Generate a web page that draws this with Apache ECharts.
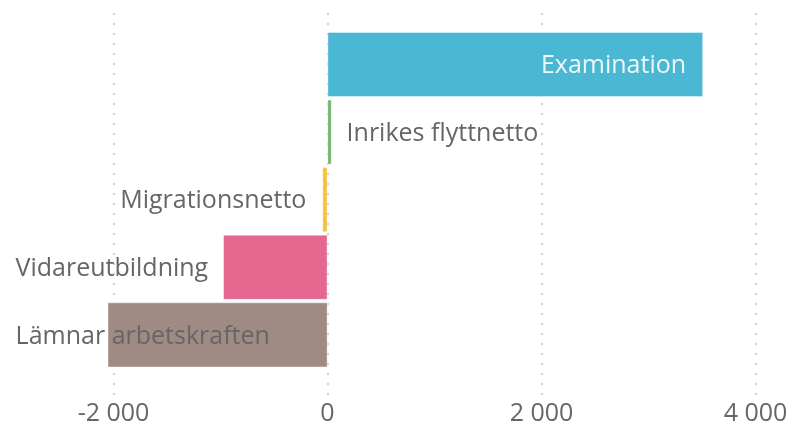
<!DOCTYPE html>
<html>
<head>
<meta charset="utf-8">
<script src="https://cdn.jsdelivr.net/npm/echarts@6/dist/echarts.min.js"></script>
<style>
  html, body { margin: 0; padding: 0; background: #fff; }
  #chart { width: 792px; height: 426px; }
</style>
</head>
<body>
<div id="chart"></div>
<script>
// Flows into and out of the labour force (persons)
const categories = ['Examination', 'Inrikes flyttnetto', 'Migrationsnetto', 'Vidareutbildning', 'Lämnar arbetskraften'];
const values = [3510, 38, -48, -975, -2055];
const colors = ['#4ab7d3', '#6ab56a', '#f6c23e', '#e5678f', '#9f8b83'];
const tickValues = [-2000, 0, 2000, 4000];

const FONT = '"Open Sans", "Noto Sans", sans-serif';
const TEXT = '#666666';

// Pixel scale shared by both grids: 0 at x=327.5, 214 px per 2000
const zeroX = 327.5, pxPerUnit = 214 / 2000, chartW = 792;
const gridMin = tickValues[0], gridMax = tickValues[tickValues.length - 1];
const barMin = -2200, barMax = 4000;

function fmt(v) {
  const s = Math.abs(v).toString().replace(/\B(?=(\d{3})+(?!\d))/g, ' ');
  return (v < 0 ? '-' : '') + s;
}

// The long last label is kept inside the chart: shifted left from the bar start
const labelConf = [
  { position: 'insideRight', distance: 17, offset: [0, 1.5], color: '#eef7f9' },
  { position: 'right', distance: 15, offset: [0, 1.5], color: TEXT },
  { position: 'left', distance: 16, offset: [0, 1.5], color: TEXT },
  { position: 'left', distance: 15, offset: [0, 1.5], color: TEXT },
  { position: 'insideLeft', distance: 0, offset: [-92, 1.5], color: TEXT }
];

const barData = values.map((v, i) => ({
  value: v,
  itemStyle: { color: colors[i] },
  label: Object.assign({ show: true, formatter: categories[i], fontFamily: FONT, fontSize: 25 }, labelConf[i])
}));

const chart = echarts.init(document.getElementById('chart'), null, { renderer: 'canvas' });
chart.setOption({
  animation: false,
  grid: [
    // grid 0: dotted gridlines and tick labels
    { left: zeroX + gridMin * pxPerUnit, right: chartW - (zeroX + gridMax * pxPerUnit), top: 13, bottom: 30, containLabel: false },
    // grid 1: the bars
    { left: zeroX + barMin * pxPerUnit, right: chartW - (zeroX + barMax * pxPerUnit), top: 30.7, height: 338, containLabel: false }
  ],
  xAxis: [
    {
      gridIndex: 0, type: 'value', min: gridMin, max: gridMax, interval: 2000,
      axisLine: { show: false }, axisTick: { show: false },
      splitLine: { show: true, lineStyle: { type: [2, 8], color: '#c4c4c4', width: 1.6 } },
      axisLabel: { margin: 5, color: TEXT, fontFamily: FONT, fontSize: 25, formatter: fmt }
    },
    {
      gridIndex: 1, type: 'value', min: barMin, max: barMax,
      show: false, splitLine: { show: false }
    }
  ],
  yAxis: [
    { gridIndex: 0, type: 'value', show: false, splitLine: { show: false } },
    { gridIndex: 1, type: 'category', data: categories, inverse: true, show: false }
  ],
  series: [{
    type: 'bar',
    xAxisIndex: 1, yAxisIndex: 1,
    data: barData,
    barCategoryGap: '4%',
    itemStyle: { borderColor: 'rgba(255,255,255,0.5)', borderWidth: 0.8 }
  }]
});
</script>
</body>
</html>
